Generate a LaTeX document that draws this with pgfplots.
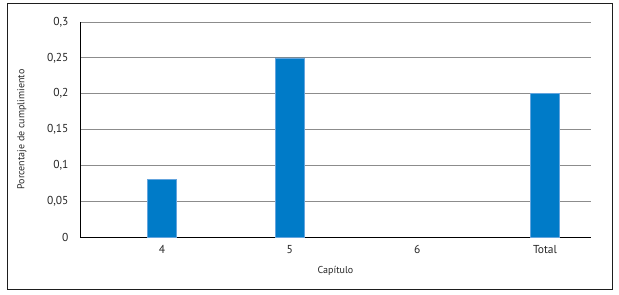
\documentclass[border=0pt]{standalone}
\usepackage{pgfplots}
\pgfplotsset{compat=1.18}
\usetikzlibrary{calc}
\usepackage{fontspec}
\setmainfont{PT Sans}
\definecolor{barblue}{RGB}{0,123,200}
\definecolor{edgeblue}{RGB}{100,165,222}
\definecolor{gridgray}{RGB}{140,140,140}
\definecolor{framegray}{RGB}{30,30,30}
\begin{document}
\begin{tikzpicture}[x=1pt,y=1pt]
\begin{axis}[
  name=ax,
  scale only axis, width=511pt, height=215pt,
  xmin=-0.642, xmax=3.36, ymin=0, ymax=0.3,
  axis x line=bottom, axis y line=left,
  axis line style={-, black, line width=0.9pt},
  xtick={0,1,2,3}, xticklabels={4,5,6,Total},
  ytick={0,0.05,0.1,0.15,0.2,0.25,0.3},
  yticklabels={0,{0,05},{0,1},{0,15},{0,2},{0,25},{0,3}},
  major tick length=0pt,
  ymajorgrids, grid style={gridgray, line width=0.8pt},
  ticklabel style={font=\fontsize{11.5}{13}\selectfont, text=black!85},
  yticklabel style={xshift=-8pt},
  xticklabel style={yshift=-5pt},
  xlabel={Capítulo},
  ylabel={Porcentaje de cumplimiento},
  every axis x label/.style={at={(axis description cs:0.5,0)}, anchor=center, yshift=-34pt, font=\fontsize{10}{12}\selectfont, text=black!85},
  every axis y label/.style={at={(axis description cs:0,0.5)}, xshift=-58pt, rotate=90, anchor=center, font=\fontsize{10}{12}\selectfont, text=black!85},
  ybar, bar width=29pt, bar shift=0pt,
  clip=false,
]
\addplot[fill=barblue, draw=edgeblue, line width=0.6pt] coordinates {(0,0.08) (1,0.25) (3,0.2)};
\end{axis}
\draw[framegray, line width=1pt] ($(ax.south west)+(-72,-52)$) rectangle ($(ax.north east)+(21,18)$);
\path[use as bounding box] ($(ax.south west)+(-80,-57)$) rectangle ($(ax.north east)+(28,22)$);
\end{tikzpicture}
\end{document}
